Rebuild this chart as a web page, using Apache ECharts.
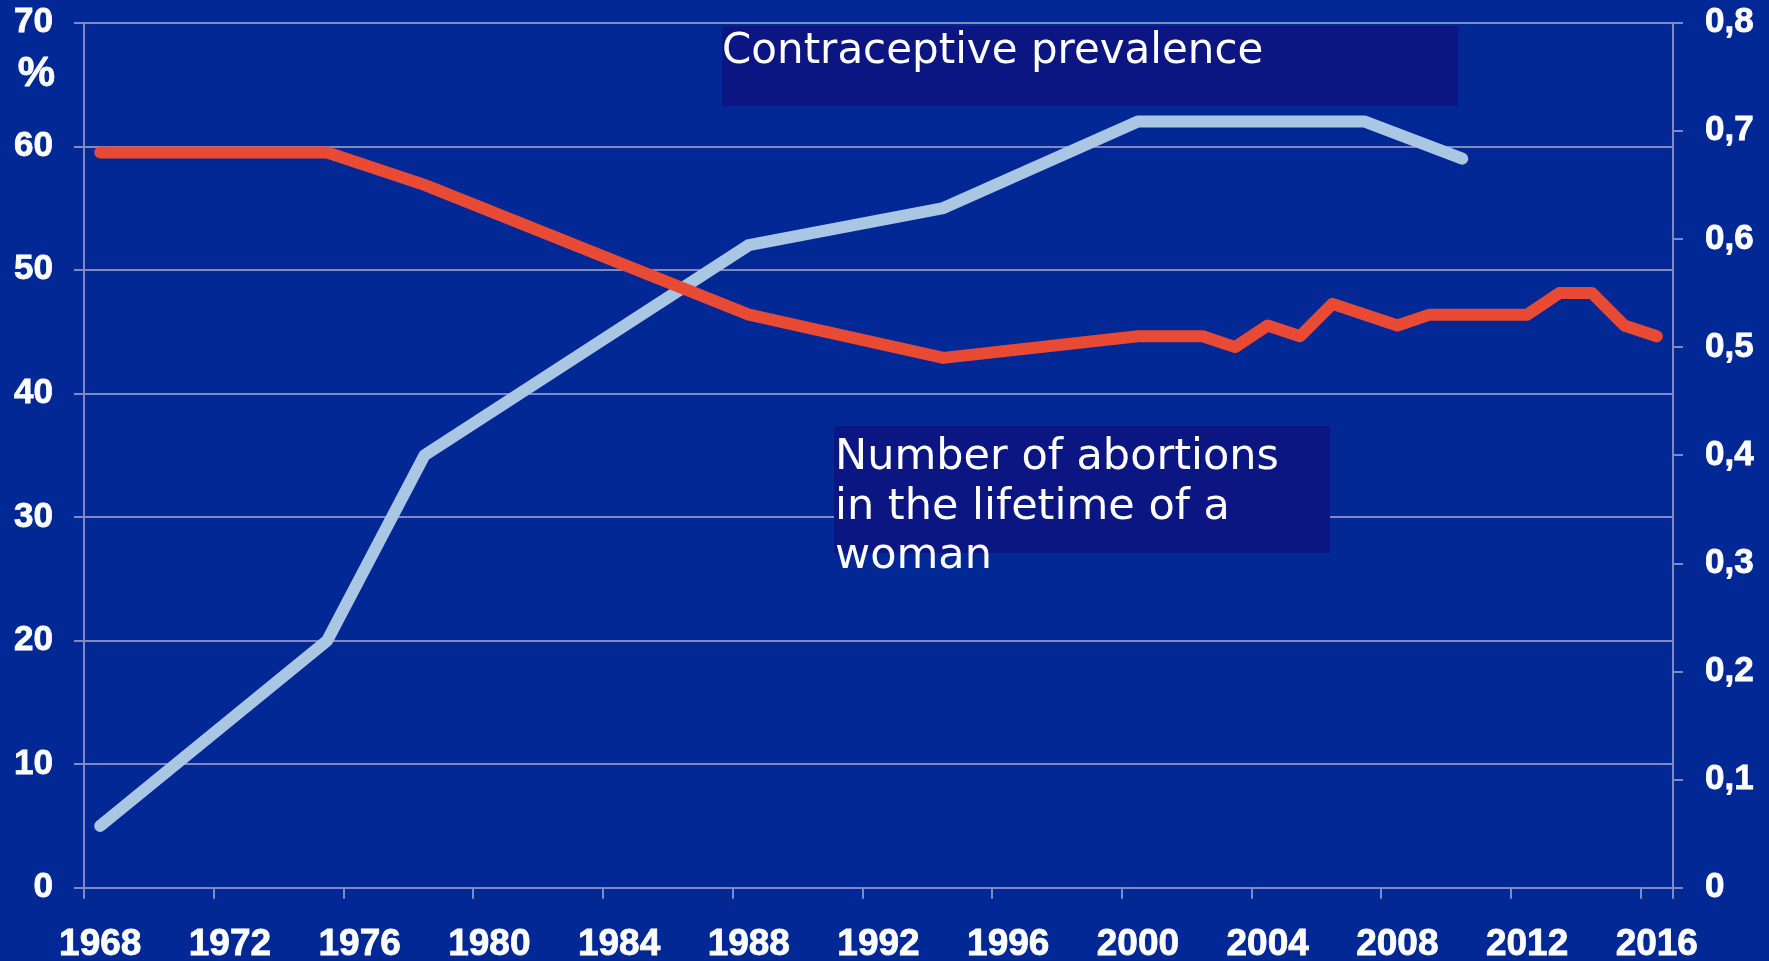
<!DOCTYPE html>
<html>
<head>
<meta charset="utf-8">
<script src="https://cdn.jsdelivr.net/npm/echarts@6/dist/echarts.min.js"></script>
<style>
html,body{margin:0;padding:0;background:#022896;}
#chart{width:1769px;height:961px;}
</style>
</head>
<body>
<div id="chart"></div>
<script>
// ---- data ----
const years = [];
for (let y = 1968; y <= 2016; y++) years.push(String(y));

const contraYears  = ['1968','1975','1978','1988','1994','2000','2007','2010'];
const contraValues = [5, 20, 35, 52, 55, 62, 62, 59];

const abortYears  = ['1968','1975','1978','1988','1994','2000','2002','2003','2004','2005','2006','2008','2009','2012','2013','2014','2015','2016'];
const abortValues = [0.68, 0.68, 0.65, 0.53, 0.49, 0.51, 0.51, 0.50, 0.52, 0.51, 0.54, 0.52, 0.53, 0.53, 0.55, 0.55, 0.52, 0.51];

const leftTicks = { min: 0, max: 70, interval: 10 };
const rightTicks = { min: 0, max: 0.8, interval: 0.1 };

const labelContra = 'Contraceptive prevalence';
const labelAbort = 'Number of abortions\nin the lifetime of a\nwoman';
const unitLabel = '%';

// ---- styles ----
const gridColor = '#8189c4';
const labelFont = { color: '#ffffff', fontWeight: 'bold', fontFamily: 'Liberation Sans, Arial, sans-serif', textBorderColor: '#ffffff', textBorderWidth: 0.8 };

const chart = echarts.init(document.getElementById('chart'));
chart.setOption({
  animation: false,
  backgroundColor: '#022896',
  grid: { left: 84, right: 96, top: 22.7, bottom: 73.3, containLabel: false, outerBoundsMode: 'none' },
  xAxis: {
    type: 'category',
    data: years,
    boundaryGap: true,
    axisLine: { show: true, lineStyle: { color: gridColor, width: 2 } },
    axisTick: { show: true, interval: 3, length: 11, lineStyle: { color: gridColor, width: 2 } },
    axisLabel: Object.assign({ interval: 3, fontSize: 37, margin: 39 }, labelFont),
    splitLine: { show: false }
  },
  yAxis: [
    {
      type: 'value',
      min: leftTicks.min, max: leftTicks.max, interval: leftTicks.interval,
      position: 'left',
      axisLine: { show: true, lineStyle: { color: gridColor, width: 2 } },
      axisTick: { show: true, length: 10, lineStyle: { color: gridColor, width: 2 } },
      axisLabel: Object.assign({ fontSize: 35, margin: 31 }, labelFont),
      splitLine: { show: true, lineStyle: { color: gridColor, width: 2 } }
    },
    {
      type: 'value',
      min: rightTicks.min, max: rightTicks.max, interval: rightTicks.interval,
      position: 'right',
      axisLine: { show: true, lineStyle: { color: gridColor, width: 2 } },
      axisTick: { show: true, length: 10, lineStyle: { color: gridColor, width: 2 } },
      axisLabel: Object.assign({
        fontSize: 35, margin: 32,
        formatter: v => v === 0 ? '0' : v.toFixed(1).replace('.', ',')
      }, labelFont),
      splitLine: { show: false }
    }
  ],
  graphic: [
    {
      type: 'text', x: 55, y: 74, z: 100,
      style: { text: unitLabel, fontSize: 42, fill: '#ffffff', textAlign: 'right', verticalAlign: 'middle',
               fontWeight: 'bold', fontFamily: 'Liberation Sans, Arial, sans-serif', stroke: '#ffffff', lineWidth: 0.8 }
    },
    {
      type: 'rect', z: 100,
      shape: { x: 722, y: 26, width: 736, height: 80 },
      style: { fill: '#0b1683' }
    },
    {
      type: 'text', x: 722, y: 52, z: 101,
      style: { text: labelContra, fontSize: 42, fontFamily: 'DejaVu Sans, Verdana, sans-serif', fill: '#ffffff', verticalAlign: 'middle', textAlign: 'left' }
    },
    {
      type: 'rect', z: 100,
      shape: { x: 834, y: 426, width: 496, height: 127 },
      style: { fill: '#0b1683' }
    },
    {
      type: 'text', x: 835, y: 433.5, z: 101,
      style: { text: labelAbort, fontSize: 43, lineHeight: 49.5, fontFamily: 'DejaVu Sans, Verdana, sans-serif', fill: '#ffffff', verticalAlign: 'top', textAlign: 'left' }
    }
  ],
  series: [
    {
      name: 'Contraceptive prevalence',
      type: 'line',
      yAxisIndex: 0,
      data: contraYears.map((y, i) => [y, contraValues[i]]),
      symbol: 'none',
      smooth: false,
      lineStyle: { color: '#a9c6e3', width: 12, cap: 'round', join: 'round' },
      z: 3
    },
    {
      name: 'Number of abortions',
      type: 'line',
      yAxisIndex: 1,
      data: abortYears.map((y, i) => [y, abortValues[i]]),
      symbol: 'none',
      smooth: false,
      lineStyle: { color: '#e84a33', width: 12, cap: 'round', join: 'round' },
      z: 4
    }
  ]
});
</script>
</body>
</html>
